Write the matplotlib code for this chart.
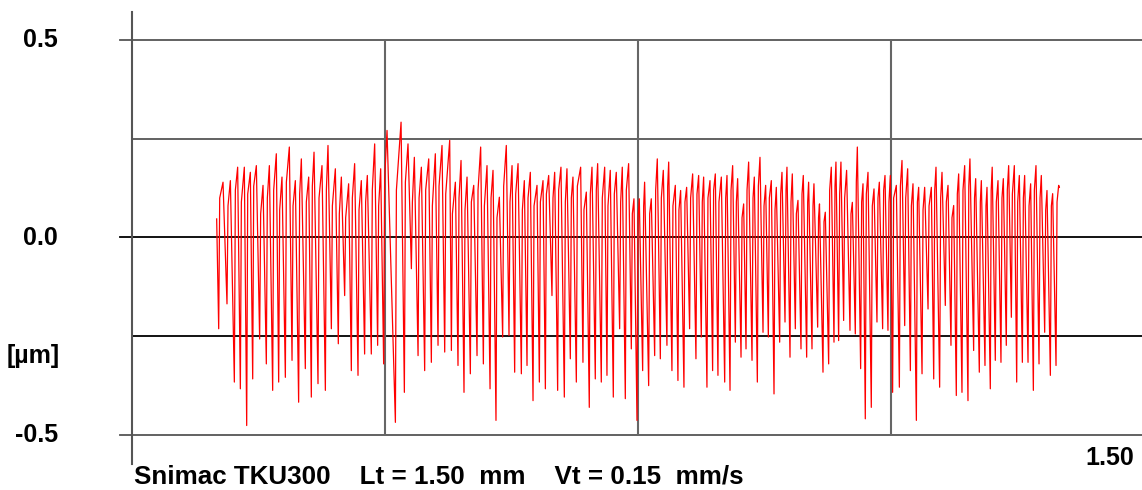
import matplotlib
matplotlib.use("Agg")
import matplotlib.pyplot as plt
import matplotlib.transforms as mtransforms

# profile, x in mm, z in um
# each cycle: valley -> shoulder (top of the rise) -> peak
start_x, start_z = 0.1255, 0.047
end_x, end_z = 1.3745, 0.127

valley_x = [
    0.1285, 0.1408, 0.1517, 0.1606, 0.1700, 0.1789, 0.1892, 0.1991, 0.2085, 0.2174,
    0.2273, 0.2372, 0.2470, 0.2569, 0.2658, 0.2757, 0.2866, 0.2955, 0.3058, 0.3152,
    0.3251, 0.3350, 0.3448, 0.3547, 0.3641, 0.3730,
    0.3904, 0.4037, 0.4141, 0.4240, 0.4338, 0.4437, 0.4536, 0.4635, 0.4734, 0.4832,
    0.4921, 0.5015, 0.5114, 0.5208, 0.5307, 0.5395, 0.5494, 0.5588, 0.5672, 0.5771,
    0.5855, 0.5944, 0.6038, 0.6127, 0.6225,
    0.6309, 0.6408, 0.6497, 0.6586, 0.6684, 0.6778, 0.6867, 0.6956, 0.7040, 0.7134,
    0.7228, 0.7312, 0.7401, 0.7485, 0.7569, 0.7658, 0.7747, 0.7831, 0.7929, 0.8003,
    0.8092, 0.8181, 0.8265, 0.8359, 0.8438, 0.8522, 0.8606, 0.8685,
    0.8785, 0.8864, 0.8943, 0.9027, 0.9101, 0.9190, 0.9269, 0.9353, 0.9432, 0.9516,
    0.9600, 0.9679, 0.9753, 0.9832, 0.9916, 1.0000, 1.0079, 1.0163, 1.0242, 1.0326,
    1.0405, 1.0474, 1.0548, 1.0642, 1.0721, 1.0800, 1.0869, 1.0958, 1.1042, 1.1126,
    1.1205, 1.1274,
    1.1374, 1.1453, 1.1537, 1.1626, 1.1710, 1.1799, 1.1883, 1.1971, 1.2055, 1.2139,
    1.2218, 1.2302, 1.2391, 1.2475, 1.2559, 1.2643, 1.2722, 1.2796, 1.2880, 1.2959,
    1.3034, 1.3113, 1.3197, 1.3281, 1.3360, 1.3444, 1.3528, 1.3612, 1.3696,
]
valley_z = [
    -0.231, -0.168, -0.366, -0.383, -0.476, -0.358, -0.257, -0.320, -0.387, -0.366,
    -0.354, -0.311, -0.417, -0.332, -0.404, -0.370, -0.387, -0.231, -0.269, -0.147,
    -0.337, -0.349, -0.295, -0.295, -0.273, -0.320,
    -0.468, -0.392, -0.079, -0.299, -0.337, -0.316, -0.273, -0.290, -0.286, -0.324,
    -0.392, -0.345, -0.299, -0.320, -0.383, -0.463, -0.252, -0.248, -0.341, -0.345,
    -0.324, -0.413, -0.366, -0.383, -0.147,
    -0.387, -0.404, -0.307, -0.366, -0.316, -0.430, -0.358, -0.366, -0.349, -0.404,
    -0.231, -0.408, -0.282, -0.463, -0.337, -0.375, -0.299, -0.307, -0.273, -0.337,
    -0.362, -0.379, -0.231, -0.307, -0.252, -0.379, -0.337, -0.349,
    -0.366, -0.387, -0.265, -0.303, -0.282, -0.311, -0.366, -0.240, -0.252, -0.396,
    -0.265, -0.214, -0.303, -0.231, -0.282, -0.303, -0.282, -0.227, -0.341, -0.320,
    -0.265, -0.261, -0.210, -0.235, -0.244, -0.332, -0.459, -0.430, -0.214, -0.231,
    -0.235, -0.392,
    -0.379, -0.223, -0.337, -0.463, -0.345, -0.181, -0.358, -0.379, -0.172, -0.273,
    -0.400, -0.392, -0.413, -0.286, -0.341, -0.324, -0.383, -0.311, -0.316, -0.273,
    -0.202, -0.366, -0.316, -0.316, -0.387, -0.320, -0.240, -0.349, -0.324,
]
shoulder_x = [
    0.1300, 0.1423, 0.1532, 0.1621, 0.1715, 0.1804, 0.1907, 0.2006, 0.2100, 0.2189,
    0.2288, 0.2387, 0.2485, 0.2584, 0.2673, 0.2772, 0.2881, 0.2970, 0.3073, 0.3167,
    0.3266, 0.3365, 0.3463, 0.3562, 0.3656, 0.3745,
    0.3919, 0.4052, 0.4156, 0.4255, 0.4353, 0.4452, 0.4551, 0.4650, 0.4749, 0.4847,
    0.4936, 0.5030, 0.5129, 0.5223, 0.5322, 0.5410, 0.5509, 0.5603, 0.5687, 0.5786,
    0.5870, 0.5959, 0.6053, 0.6142, 0.6240,
    0.6324, 0.6423, 0.6512, 0.6601, 0.6699, 0.6793, 0.6882, 0.6971, 0.7055, 0.7149,
    0.7243, 0.7327, 0.7416, 0.7500, 0.7584, 0.7673, 0.7762, 0.7846, 0.7940, 0.8018,
    0.8107, 0.8196, 0.8280, 0.8374, 0.8453, 0.8537, 0.8621, 0.8700,
    0.8800, 0.8879, 0.8958, 0.9042, 0.9116, 0.9205, 0.9284, 0.9368, 0.9447, 0.9531,
    0.9615, 0.9694, 0.9768, 0.9847, 0.9931, 1.0015, 1.0094, 1.0176, 1.0257, 1.0341,
    1.0420, 1.0489, 1.0563, 1.0657, 1.0736, 1.0815, 1.0884, 1.0973, 1.1057, 1.1141,
    1.1220, 1.1289,
    1.1389, 1.1468, 1.1552, 1.1641, 1.1725, 1.1814, 1.1898, 1.1986, 1.2070, 1.2154,
    1.2233, 1.2317, 1.2403, 1.2488, 1.2574, 1.2658, 1.2735, 1.2811, 1.2895, 1.2974,
    1.3049, 1.3128, 1.3212, 1.3296, 1.3375, 1.3459, 1.3543, 1.3627, 1.3711,
]
shoulder_z = [
    0.10, 0.08, 0.12, 0.09, 0.11, 0.13, 0.06, 0.10, 0.12, 0.07,
    0.14, 0.08, 0.11, 0.09, 0.13, 0.10, 0.12, 0.08, 0.06, 0.05,
    0.10, 0.07, 0.09, 0.12, 0.08, 0.15,
    0.12, 0.14, 0.09, 0.10, 0.12, 0.08, 0.13, 0.11, 0.06, 0.10,
    0.07, 0.09, 0.12, 0.08, 0.10, 0.05, 0.13, 0.09, 0.11, 0.07,
    0.10, 0.08, 0.09, 0.11, 0.10,
    0.12, 0.09, 0.10, 0.13, 0.07, 0.11, 0.12, 0.10, 0.08, 0.11,
    0.09, 0.12, 0.06, 0.05, 0.08, 0.06, 0.12, 0.10, 0.13, 0.08,
    0.07, 0.09, 0.10, 0.11, 0.09, 0.10, 0.12, 0.09,
    0.10, 0.12, 0.09, 0.05, 0.12, 0.10, 0.13, 0.08, 0.10, 0.07,
    0.11, 0.12, 0.09, 0.06, 0.11, 0.09, 0.08, 0.05, 0.04, 0.12,
    0.13, 0.11, 0.10, 0.06, 0.14, 0.09, 0.11, 0.08, 0.10, 0.12,
    0.09, 0.10,
    0.13, 0.10, 0.08, 0.09, 0.07, 0.08, 0.12, 0.10, 0.09, 0.05,
    0.11, 0.12, 0.13, 0.10, 0.09, 0.08, 0.12, 0.09, 0.10, 0.12,
    0.11, 0.09, 0.10, 0.08, 0.12, 0.10, 0.07, 0.08, 0.09,
]
peak_x = [
    0.1349, 0.1458, 0.1566, 0.1665, 0.1754, 0.1843, 0.1942, 0.2036, 0.2139, 0.2223,
    0.2332, 0.2421, 0.2510, 0.2619, 0.2698, 0.2816, 0.2905, 0.3014, 0.3103, 0.3211,
    0.3300, 0.3399, 0.3488, 0.3597, 0.3686, 0.3780,
    0.3988, 0.4091, 0.4185, 0.4289, 0.4398, 0.4496, 0.4595, 0.4709, 0.4793, 0.4877,
    0.4966, 0.5065, 0.5168, 0.5262, 0.5351, 0.5445, 0.5548, 0.5633, 0.5722, 0.5815,
    0.5904, 0.6003, 0.6092, 0.6176, 0.6265,
    0.6358, 0.6447, 0.6536, 0.6650, 0.6734, 0.6818, 0.6902, 0.7006, 0.7089, 0.7178,
    0.7267, 0.7361, 0.7440, 0.7519, 0.7598, 0.7697, 0.7786, 0.7875, 0.7955, 0.8053,
    0.8132, 0.8221, 0.8310, 0.8399, 0.8473, 0.8567, 0.8646, 0.8735,
    0.8819, 0.8903, 0.8977, 0.9066, 0.9140, 0.9224, 0.9308, 0.9392, 0.9476, 0.9550,
    0.9634, 0.9708, 0.9787, 0.9871, 0.9950, 1.0029, 1.0108, 1.0190, 1.0276, 1.0365,
    1.0434, 1.0508, 1.0592, 1.0677, 1.0751, 1.0835, 1.0909, 1.0998, 1.1077, 1.1161,
    1.1240, 1.1329,
    1.1413, 1.1497, 1.1576, 1.1660, 1.1749, 1.1848, 1.1917, 1.2006, 1.2095, 1.2179,
    1.2253, 1.2342, 1.2420, 1.2505, 1.2589, 1.2673, 1.2750, 1.2836, 1.2915, 1.2994,
    1.3078, 1.3152, 1.3231, 1.3320, 1.3399, 1.3478, 1.3562, 1.3646, 1.3735,
]
peak_z = [
    0.140, 0.144, 0.178, 0.178, 0.165, 0.182, 0.132, 0.182, 0.212, 0.153,
    0.229, 0.144, 0.199, 0.153, 0.216, 0.182, 0.233, 0.174, 0.153, 0.136,
    0.187, 0.144, 0.157, 0.237, 0.174, 0.271,
    0.292, 0.237, 0.203, 0.178, 0.199, 0.212, 0.233, 0.246, 0.140, 0.195,
    0.153, 0.132, 0.229, 0.182, 0.170, 0.102, 0.233, 0.182, 0.187, 0.144,
    0.165, 0.132, 0.144, 0.157, 0.165,
    0.178, 0.174, 0.153, 0.178, 0.115, 0.178, 0.187, 0.178, 0.170, 0.165,
    0.178, 0.187, 0.098, 0.098, 0.140, 0.098, 0.199, 0.170, 0.191, 0.132,
    0.119, 0.127, 0.161, 0.157, 0.153, 0.144, 0.161, 0.153,
    0.157, 0.182, 0.149, 0.085, 0.191, 0.153, 0.203, 0.132, 0.144, 0.127,
    0.165, 0.178, 0.161, 0.094, 0.157, 0.140, 0.136, 0.085, 0.064, 0.178,
    0.191, 0.191, 0.170, 0.089, 0.229, 0.136, 0.165, 0.123, 0.140, 0.157,
    0.157, 0.132,
    0.195, 0.174, 0.136, 0.127, 0.127, 0.127, 0.178, 0.165, 0.132, 0.081,
    0.161, 0.182, 0.199, 0.149, 0.144, 0.127, 0.178, 0.144, 0.149, 0.182,
    0.182, 0.157, 0.157, 0.136, 0.182, 0.157, 0.119, 0.111, 0.132,
]

y_ticks = [0.5, 0.0, -0.5]
y_grid = [0.5, 0.25, 0.0, -0.25, -0.5]
x_grid = [0.375, 0.75, 1.125]
x_end_label = "1.50"
unit_label = "[µm]"
footer = "Snimac TKU300    Lt = 1.50  mm    Vt = 0.15  mm/s"

profile_x = [start_x]
profile_z = [start_z]
for vx, vz, sx, sz, px, pz in zip(valley_x, valley_z, shoulder_x, shoulder_z,
                                  peak_x, peak_z):
    profile_x += [vx, sx, px]
    profile_z += [vz, sz, pz]
profile_x.append(end_x)
profile_z.append(end_z)

plt.rcParams['font.family'] = ['Liberation Sans', 'DejaVu Sans']

fig = plt.figure(figsize=(11.42, 4.90), dpi=100)
ax = fig.add_axes([132 / 1142, 55 / 490, 1012 / 1142, 395 / 490])
ax.set_xlim(0, 1.5)
ax.set_ylim(-0.5, 0.5)
for s in ax.spines.values():
    s.set_visible(False)
ax.set_xticks([])
ax.set_yticks([])

trans = mtransforms.blended_transform_factory(ax.transAxes, ax.transData)
for g in y_grid:
    col = 'black' if g in (0.0, -0.25) else '#555555'
    x0 = -0.012 if g in y_ticks else 0.0
    ax.plot([x0, 1.0], [g, g], transform=trans, color=col, lw=1.3,
            clip_on=False, zorder=1)
for g in x_grid:
    ax.axvline(g, color='#666666', lw=1.5, zorder=1)
# left axis line, longer than the grid
ax.plot([0, 0], [-0.073, 1.071], transform=ax.transAxes, color='#555555',
        lw=1.5, clip_on=False, zorder=1)

ax.plot(profile_x, profile_z, color='#ff0000', lw=0.9, zorder=2)

for t in y_ticks:
    ax.text(-0.073, t, f"{t:.1f}", transform=trans, ha='right', va='center',
            fontsize=18, fontweight='bold')
ax.text(-0.071, -0.299, unit_label, transform=trans, ha='right', va='center',
        fontsize=18, fontweight='bold')
ax.text(0.99, -0.058, x_end_label, transform=ax.transAxes, ha='right',
        va='center', fontsize=18, fontweight='bold')
ax.text(0.002, -0.106, footer, transform=ax.transAxes, ha='left',
        va='center', fontsize=18.7, fontweight='bold')

fig.savefig("out.png", dpi=100)
